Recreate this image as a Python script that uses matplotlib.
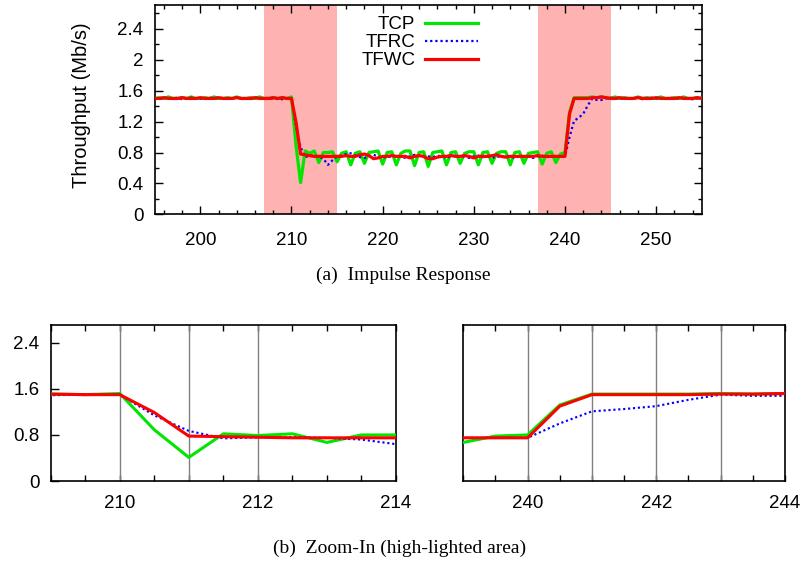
import numpy as np
import matplotlib.pyplot as plt
from matplotlib.ticker import MultipleLocator

## time axis, sampled every 0.5 s
t = np.arange(195, 255.5, 0.5)

## throughput (Mb/s), rows of 5 s
tcp = [
    1.50, 1.51, 1.50, 1.52, 1.50, 1.50, 1.51, 1.50, 1.52, 1.50,   # 195
    1.50, 1.51, 1.50, 1.52, 1.50, 1.50, 1.51, 1.50, 1.52, 1.50,   # 200
    1.50, 1.51, 1.50, 1.52, 1.50, 1.50, 1.51, 1.50, 1.51, 1.50,   # 205
    1.52, 0.89, 0.41, 0.82, 0.79, 0.82, 0.67, 0.80, 0.80, 0.81,   # 210
    0.68, 0.79, 0.81, 0.64, 0.79, 0.81, 0.66, 0.80, 0.81, 0.82,   # 215
    0.65, 0.80, 0.81, 0.64, 0.79, 0.82, 0.82, 0.63, 0.80, 0.81,   # 220
    0.62, 0.80, 0.81, 0.82, 0.64, 0.80, 0.81, 0.66, 0.79, 0.81,   # 225
    0.81, 0.64, 0.80, 0.81, 0.66, 0.79, 0.81, 0.81, 0.64, 0.80,   # 230
    0.81, 0.66, 0.79, 0.80, 0.81, 0.65, 0.79, 0.81, 0.67, 0.78,   # 235
    0.80, 1.32, 1.51, 1.51, 1.51, 1.51, 1.52, 1.51, 1.52, 1.51,   # 240
    1.50, 1.52, 1.50, 1.51, 1.50, 1.50, 1.52, 1.50, 1.51, 1.50,   # 245
    1.50, 1.52, 1.50, 1.50, 1.51, 1.50, 1.52, 1.50, 1.50, 1.51,   # 250
    1.50]
tfrc = [
    1.50, 1.49, 1.51, 1.50, 1.50, 1.51, 1.49, 1.50, 1.51, 1.50,
    1.50, 1.49, 1.51, 1.50, 1.50, 1.51, 1.49, 1.50, 1.51, 1.50,
    1.50, 1.49, 1.51, 1.50, 1.50, 1.51, 1.49, 1.50, 1.49, 1.50,
    1.50, 1.14, 0.87, 0.74, 0.76, 0.76, 0.75, 0.72, 0.64, 0.70,
    0.75, 0.76, 0.78, 0.79, 0.76, 0.74, 0.73, 0.75, 0.77, 0.75,
    0.73, 0.75, 0.74, 0.76, 0.75, 0.73, 0.75, 0.77, 0.76, 0.74,
    0.75, 0.74, 0.76, 0.75, 0.73, 0.75, 0.76, 0.74, 0.75, 0.73,
    0.75, 0.76, 0.74, 0.75, 0.73, 0.75, 0.74, 0.76, 0.75, 0.73,
    0.75, 0.74, 0.75, 0.73, 0.75, 0.76, 0.74, 0.75, 0.75, 0.75,
    0.75, 1.00, 1.21, 1.25, 1.30, 1.41, 1.50, 1.48, 1.48, 1.50,
    1.51, 1.50, 1.49, 1.51, 1.50, 1.50, 1.51, 1.49, 1.50, 1.51,
    1.50, 1.50, 1.49, 1.51, 1.50, 1.50, 1.51, 1.50, 1.49, 1.50,
    1.50]
tfwc = [
    1.50, 1.50, 1.51, 1.50, 1.50, 1.50, 1.51, 1.50, 1.50, 1.50,
    1.51, 1.50, 1.50, 1.50, 1.51, 1.50, 1.50, 1.50, 1.51, 1.50,
    1.50, 1.50, 1.51, 1.50, 1.50, 1.50, 1.51, 1.50, 1.51, 1.50,
    1.50, 1.19, 0.78, 0.77, 0.76, 0.75, 0.75, 0.75, 0.75, 0.75,
    0.75, 0.75, 0.76, 0.75, 0.75, 0.77, 0.78, 0.76, 0.72, 0.73,
    0.75, 0.75, 0.76, 0.75, 0.75, 0.75, 0.73, 0.75, 0.76, 0.75,
    0.72, 0.72, 0.74, 0.75, 0.75, 0.76, 0.75, 0.75, 0.76, 0.75,
    0.73, 0.75, 0.75, 0.75, 0.76, 0.77, 0.75, 0.74, 0.75, 0.75,
    0.75, 0.75, 0.75, 0.75, 0.76, 0.75, 0.75, 0.75, 0.75, 0.75,
    0.75, 1.30, 1.50, 1.50, 1.50, 1.50, 1.51, 1.51, 1.52, 1.51,
    1.50, 1.50, 1.51, 1.50, 1.50, 1.50, 1.51, 1.50, 1.50, 1.50,
    1.51, 1.50, 1.50, 1.50, 1.50, 1.51, 1.50, 1.50, 1.50, 1.51,
    1.50]

labels = ['TCP', 'TFRC', 'TFWC']
highlight = [(207, 215), (237, 245)]
zoom_left = (209, 214)
zoom_right = (239, 244)
grid_left = [210, 211, 212]
grid_right = [240, 241, 242, 243]

GREEN = '#00e600'
BLUE = '#0000ff'
RED = '#ff0000'

plt.rcParams['font.family'] = ['Liberation Sans', 'DejaVu Sans']
plt.rcParams['font.size'] = 13.5

fig = plt.figure(figsize=(8.05, 5.61), dpi=100)


def draw(ax, lw):
    ax.plot(t, tcp, color=GREEN, lw=lw, label=labels[0], zorder=3)
    ax.plot(t, tfrc, color=BLUE, lw=lw * 0.7, ls=(0, (1, 1.3)), label=labels[1], zorder=4)
    ax.plot(t, tfwc, color=RED, lw=lw, label=labels[2], zorder=5)
    for s in ax.spines.values():
        s.set_linewidth(1.2)


## (a) impulse response
ax = fig.add_axes([0.1922, 0.6180, 0.6795, 0.3731])
for a, b in highlight:
    ax.axvspan(a, b, color='#ffb2b2', lw=0, zorder=1)
draw(ax, 2.3)
ax.set_xlim(195, 255)
ax.set_ylim(0, 2.71)
ax.xaxis.set_major_locator(MultipleLocator(10))
ax.xaxis.set_minor_locator(MultipleLocator(2))
ax.yaxis.set_minor_locator(MultipleLocator(0.2))
ax.set_yticks([0, 0.4, 0.8, 1.2, 1.6, 2, 2.4])
ax.set_yticklabels(['0', '0.4', '0.8', '1.2', '1.6', '2', '2.4'])
ax.tick_params(which='both', direction='in', top=True, right=True, width=1)
ax.tick_params(which='major', length=6)
ax.tick_params(which='minor', length=3)
ax.tick_params(axis='x', which='major', pad=13)
ax.tick_params(axis='y', which='major', pad=8)
ax.set_ylabel('Throughput (Mb/s)', fontsize=14.5)
ax.yaxis.set_label_coords(-0.117, 0.52)
ax.legend(frameon=False, markerfirst=False, loc='upper right',
          bbox_to_anchor=(0.612, 1.0), handlelength=2.85, handletextpad=0.5,
          labelspacing=0.05, borderaxespad=0.2)

## (b) zoom-in
for pos, rng, gl, ylab in [([0.0630, 0.1426, 0.4289, 0.2781], zoom_left, grid_left, True),
                           ([0.5755, 0.1426, 0.3996, 0.2781], zoom_right, grid_right, False)]:
    bx = fig.add_axes(pos)
    for g in gl:
        bx.axvline(g, color='#808080', lw=1, zorder=2)
    draw(bx, 2.2)
    bx.set_xlim(*rng)
    bx.set_ylim(0, 2.71)
    bx.xaxis.set_major_locator(MultipleLocator(2))
    bx.xaxis.set_minor_locator(MultipleLocator(0.5))
    bx.tick_params(which='both', direction='in', top=True, width=1)
    bx.tick_params(which='major', axis='x', length=4, pad=10)
    bx.tick_params(which='minor', length=4)
    if ylab:
        bx.set_yticks([0, 0.8, 1.6, 2.4])
        bx.set_yticklabels(['0', '0.8', '1.6', '2.4'])
        bx.tick_params(axis='y', length=6, pad=8)
    else:
        bx.set_yticks([])

fig.text(403 / 805, 1 - 275 / 561, '(a)  Impulse Response', ha='center', va='center',
         family='Liberation Serif', fontsize=14)
fig.text(400 / 805, 1 - 548 / 561, '(b)  Zoom-In (high-lighted area)', ha='center', va='center',
         family='Liberation Serif', fontsize=14)

fig.savefig('out.png', dpi=100)
